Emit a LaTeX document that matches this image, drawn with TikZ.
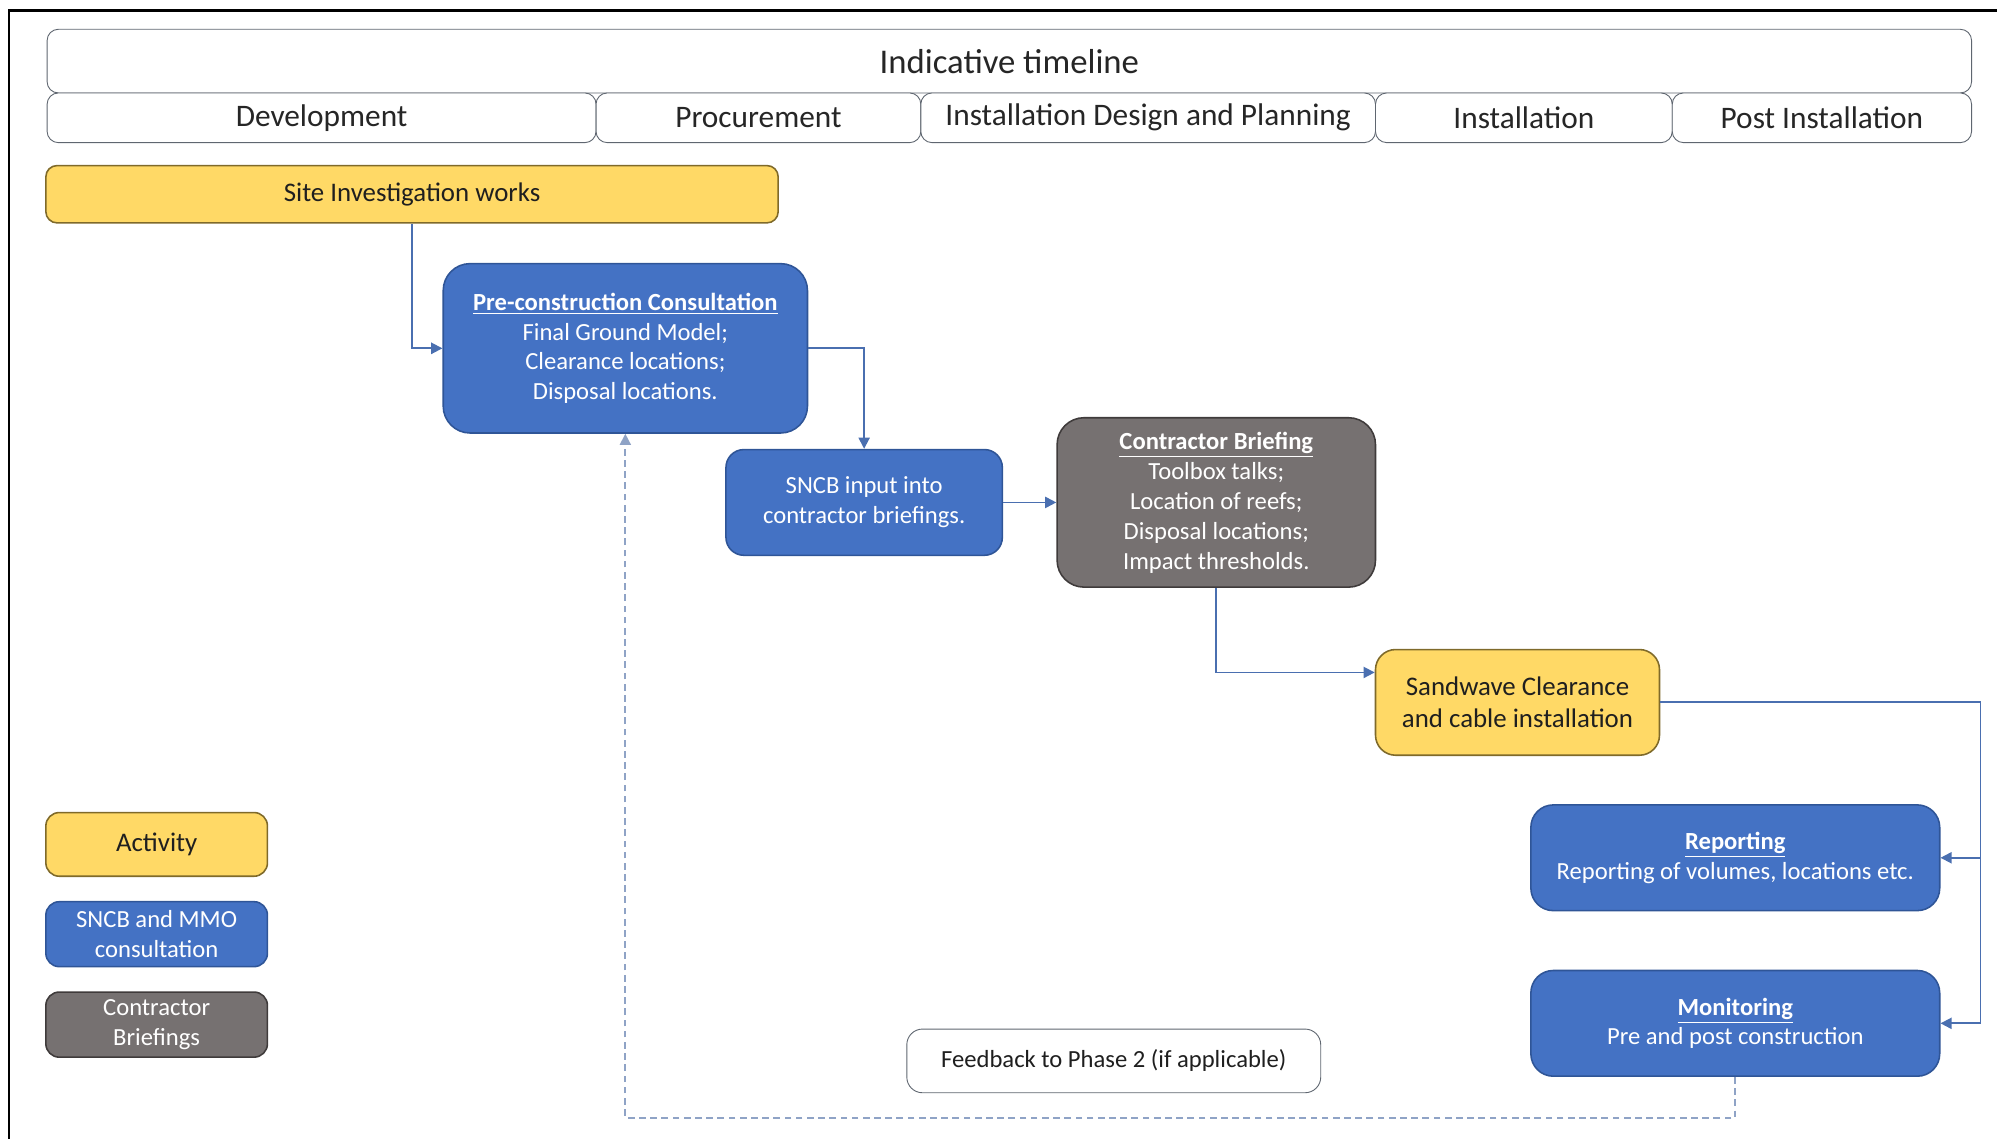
\documentclass[tikz,border=0pt]{standalone}
\usepackage{fontspec}
\setmainfont{Carlito}
\usetikzlibrary{positioning,arrows.meta}

\definecolor{consfill}{HTML}{4472C4}
\definecolor{consedge}{HTML}{2F5597}
\definecolor{actfill}{HTML}{FFD966}
\definecolor{actedge}{HTML}{7F6A2A}
\definecolor{brieffill}{HTML}{767171}
\definecolor{briefedge}{HTML}{3F3B3B}
\definecolor{flowblue}{HTML}{4A6FB0}
\definecolor{dashblue}{HTML}{8FA3C6}
\definecolor{linegray}{HTML}{5F6670}

\begin{document}
\begin{tikzpicture}[
    phase/.style={draw=linegray, fill=white, rounded corners=5pt, outer sep=0pt, inner sep=0pt,
        minimum height=0.78cm, text=black!85, font=\fontsize{14}{16}\selectfont},
    act/.style={draw=actedge, fill=actfill, text=black!88, align=center, line width=0.7pt,
        font=\fontsize{12}{14.4}\selectfont},
    cons/.style={draw=consedge, fill=consfill, text=white, align=center, line width=0.7pt,
        font=\fontsize{11}{13.4}\selectfont},
    brief/.style={draw=briefedge, fill=brieffill, text=white, align=center, line width=0.7pt,
        font=\fontsize{11}{13.4}\selectfont},
    flow/.style={draw=flowblue, line width=0.8pt, -{Triangle[length=5pt,width=5pt]}},
    fb/.style={draw=dashblue, line width=0.8pt, dash pattern=on 3pt off 2pt,
        -{Triangle[length=5pt,width=5pt]}}
]

    % 画布与外框
    \useasboundingbox (0,0) rectangle (31.36,-17.88);
    \draw[line width=1.2pt] (0.14,-17.88) -- (0.14,-0.16) -- (31.36,-0.16);

    % 时间轴
    \node[phase, minimum width=30.22cm, minimum height=1cm, font=\fontsize{15.5}{18}\selectfont]
        (timeline) at (15.85,-0.96) {Indicative timeline};
    \node[phase, minimum width=8.62cm] (dev) at (5.05,-1.85) {Development};
    \node[phase, minimum width=5.10cm, right=0pt of dev] (proc) {Procurement};
    \node[phase, minimum width=7.14cm, right=0pt of proc] (design) {Installation Design and Planning};
    \node[phase, minimum width=4.66cm, right=0pt of design] (inst) {Installation};
    \node[phase, minimum width=4.70cm, right=0pt of inst] (post) {Post Installation};

    % 流程框
    \node[act, rounded corners=5pt, minimum width=11.5cm, minimum height=0.9cm]
        (site) at (6.47,-3.05) {Site Investigation works};
    \node[cons, rounded corners=12pt, minimum width=5.72cm, minimum height=2.66cm]
        (precon) at (9.82,-5.47) {\textbf{\underline{Pre-construction Consultation}}\\
        Final Ground Model;\\ Clearance locations;\\ Disposal locations.};
    \node[cons, rounded corners=8pt, minimum width=4.34cm, minimum height=1.66cm]
        (sncb) at (13.57,-7.89) {SNCB input into\\ contractor briefings.};
    \node[brief, rounded corners=12pt, minimum width=5.0cm, minimum height=2.66cm]
        (contractor) at (19.1,-7.89) {\textbf{\underline{Contractor Briefing}}\\
        Toolbox talks;\\ Location of reefs;\\ Disposal locations;\\ Impact thresholds.};
    \node[act, rounded corners=9pt, minimum width=4.46cm, minimum height=1.66cm]
        (sandwave) at (23.83,-11.03) {Sandwave Clearance\\ and cable installation};
    \node[cons, rounded corners=10pt, minimum width=6.42cm, minimum height=1.66cm]
        (reporting) at (27.25,-13.47) {\textbf{\underline{Reporting}}\\ Reporting of volumes, locations etc.};
    \node[cons, rounded corners=10pt, minimum width=6.42cm, minimum height=1.66cm]
        (monitoring) at (27.25,-16.07) {\textbf{\underline{Monitoring}}\\ Pre and post construction};
    \node[draw=linegray, fill=white, rounded corners=7pt, minimum width=6.5cm, minimum height=1cm,
        text=black!88, font=\fontsize{11}{13.4}\selectfont]
        (feedback) at (17.49,-16.66) {Feedback to Phase 2 (if applicable)};

    % 图例
    \node[act, rounded corners=6pt, minimum width=3.48cm, minimum height=1cm]
        (legact) at (2.46,-13.26) {Activity};
    \node[cons, rounded corners=6pt, minimum width=3.48cm, minimum height=1.02cm]
        (legcons) at (2.46,-14.67) {SNCB and MMO\\ consultation};
    \node[brief, rounded corners=6pt, minimum width=3.48cm, minimum height=1.02cm]
        (legbrief) at (2.46,-16.09) {Contractor\\ Briefings};

    % 连线
    \coordinate (swin) at ([yshift=0.47cm]sandwave.west);
    \coordinate (rail) at (31.1,0);
    \draw[flow] (site.south) |- (precon.west);
    \draw[flow] (precon.east) -| (sncb.north);
    \draw[flow] (sncb.east) -- (contractor.west);
    \draw[flow] (contractor.south) |- (swin);
    \draw[flow] (sandwave.east) -| (rail |- monitoring.east) -- (monitoring.east);
    \draw[flow] (rail |- reporting.east) -- (reporting.east);

    % 反馈虚线
    \draw[fb] (monitoring.south) -- ++(0,-0.64) -| (precon.south);

\end{tikzpicture}
\end{document}
